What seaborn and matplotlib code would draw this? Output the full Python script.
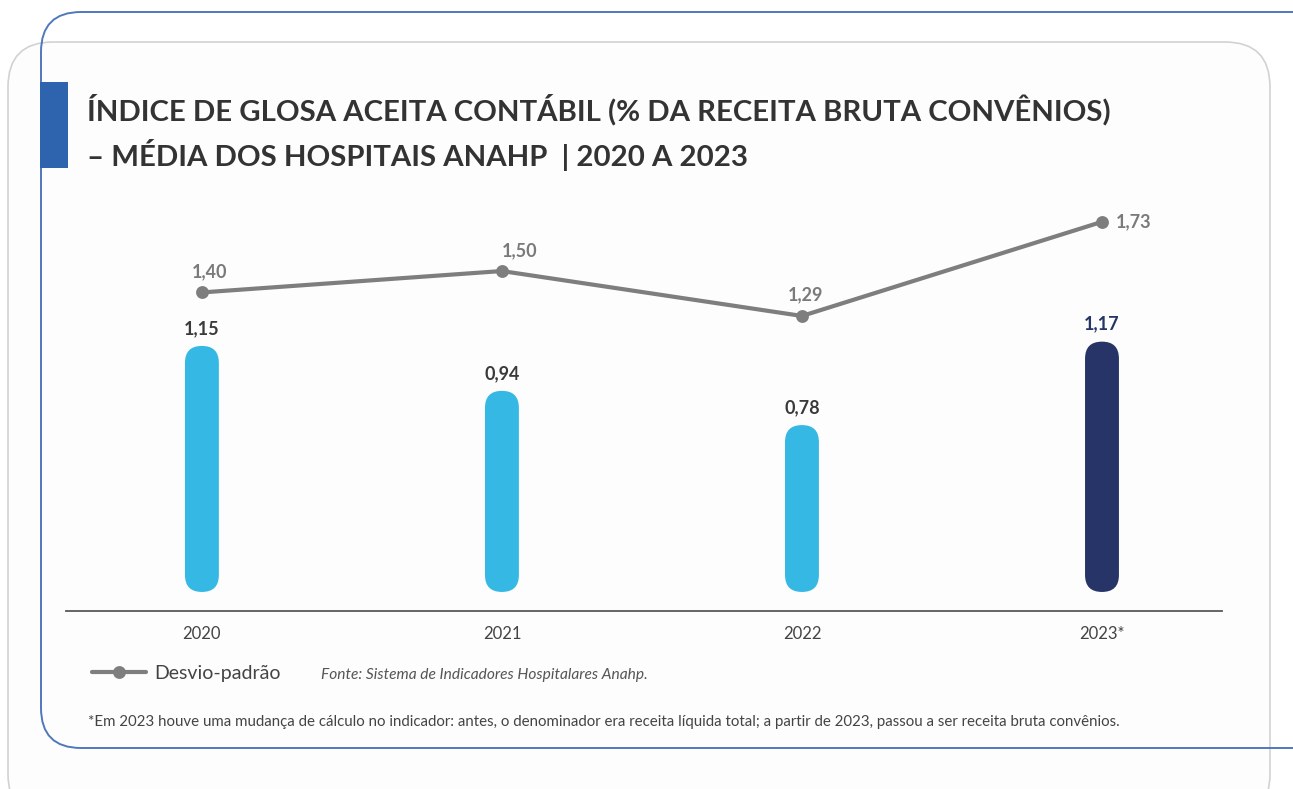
import matplotlib
matplotlib.use("Agg")
import matplotlib.pyplot as plt
import seaborn as sns
import numpy as np
from matplotlib.patches import FancyBboxPatch, Rectangle
from matplotlib.transforms import IdentityTransform

# ---- data ----
years = ["2020", "2021", "2022", "2023*"]
glosa = [1.15, 0.94, 0.78, 1.17]
desvio = [1.40, 1.50, 1.29, 1.73]
glosa_labels = ["1,15", "0,94", "0,78", "1,17"]
desvio_labels = ["1,40", "1,50", "1,29", "1,73"]

title_l1 = "ÍNDICE DE GLOSA ACEITA CONTÁBIL (% DA RECEITA BRUTA CONVÊNIOS)"
title_l2 = "– MÉDIA DOS HOSPITAIS ANAHP  | 2020 A 2023"
legend_label = "Desvio-padrão"
source = "Fonte: Sistema de Indicadores Hospitalares Anahp."
footnote = ("*Em 2023 houve uma mudança de cálculo no indicador: antes, o denominador era receita "
            "líquida total; a partir de 2023, passou a ser receita bruta convênios.")

# ---- style ----
LIGHT = "#35B9E4"
NAVY = "#273467"
GRAY = "#7E7E7E"
TXT = "#333333"
W, H = 1293, 789

sns.set_theme(style="white")
plt.rcParams["font.family"] = ["Lato", "DejaVu Sans"]

fig = plt.figure(figsize=(W / 100, H / 100), dpi=100)
fig.patch.set_facecolor("white")

# background frames (pixel coordinates)
gray_box = FancyBboxPatch((8, -30), 1262, 789 - 42 + 30,
                          boxstyle="round,pad=0,rounding_size=45",
                          transform=IdentityTransform(), facecolor="#fdfdfd",
                          edgecolor="#d2d2d2", linewidth=1.2, zorder=0)
fig.add_artist(gray_box)
blue_box = FancyBboxPatch((41, 789 - 748), 1300, 748 - 12,
                          boxstyle="round,pad=0,rounding_size=40",
                          transform=IdentityTransform(), facecolor="none",
                          edgecolor="#4f78bd", linewidth=1.4, zorder=1)
fig.add_artist(blue_box)
fig.add_artist(Rectangle((40, 789 - 168), 28, 86, transform=IdentityTransform(),
                         facecolor="#2E63AD", edgecolor="none", zorder=2))

# axes
L, R, T, B = 66, 1222, 200, 611
ax = fig.add_axes([L / W, 1 - B / H, (R - L) / W, (B - T) / H])
ax.set_facecolor("none")

palette = [LIGHT, LIGHT, LIGHT, NAVY]
sns.barplot(x=years, y=glosa, hue=years, palette=palette, legend=False,
            width=0.113, ax=ax, saturation=1, edgecolor="none")
sns.pointplot(x=years, y=desvio, color=GRAY, ax=ax, markers="o",
              markersize=7, linewidth=3.0, label=legend_label)

ax.set_xlim(-0.453, 3.4)
ax.set_ylim(-0.089, 1.832)

# round the bars
fig.canvas.draw()
p0 = ax.transData.transform((0, 0))
p1 = ax.transData.transform((1, 1))
aspect = (p1[0] - p0[0]) / (p1[1] - p0[1])
bars = [p for p in ax.patches if isinstance(p, Rectangle)]
for p in bars:
    x, y, w, h = p.get_x(), p.get_y(), p.get_width(), p.get_height()
    fc = p.get_facecolor()
    p.set_visible(False)
    rb = FancyBboxPatch((x, y), w, h,
                        boxstyle=f"round,pad=0,rounding_size={w / 2}",
                        mutation_aspect=aspect, facecolor=fc, edgecolor="none",
                        zorder=2)
    ax.add_patch(rb)

# bar value labels
for i, (v, lab) in enumerate(zip(glosa, glosa_labels)):
    ax.annotate(lab, (i, v), xytext=(0, 9), textcoords="offset pixels",
                ha="center", va="bottom", fontsize=13, fontweight="bold",
                color=NAVY if i == 3 else "#3a3a3a")

# line labels
offsets = [(8, 21, "center"), (18, 20, "center"), (4, 21, "center"), (14, 0, "left")]
for i, (v, lab) in enumerate(zip(desvio, desvio_labels)):
    dx, dy, ha = offsets[i]
    ax.annotate(lab, (i, v), xytext=(dx, dy), textcoords="offset pixels",
                ha=ha, va="center", fontsize=13, fontweight="bold",
                color="#7a7a7a")

# axes styling
for s in ["top", "right", "left"]:
    ax.spines[s].set_visible(False)
ax.spines["bottom"].set_color("#5a5a5a")
ax.spines["bottom"].set_linewidth(1.3)
ax.set_yticks([])
ax.set_ylabel("")
ax.tick_params(axis="x", length=0, pad=11, labelsize=12, labelcolor="#444444")
ax.set_xlabel("")

# legend
leg = ax.legend(loc="center left", bbox_to_anchor=(74 / W, 1 - 673 / H),
                bbox_transform=fig.transFigure, frameon=False, fontsize=14,
                handlelength=2.8, handletextpad=0.45, labelcolor="#444444")

# titles and notes
fig.text(87 / W, 1 - 110 / H, title_l1, fontsize=21.2, fontweight="bold",
         color=TXT, va="center", ha="left")
fig.text(87 / W, 1 - 155 / H, title_l2, fontsize=21.2, fontweight="bold",
         color=TXT, va="center", ha="left")
fig.text(321 / W, 1 - 675 / H, source, fontsize=11.2, style="italic",
         color="#555555", va="center", ha="left")
fig.text(88 / W, 1 - 722 / H, footnote, fontsize=10.8, color="#444444",
         va="center", ha="left")

fig.savefig("out.png", dpi=100)
